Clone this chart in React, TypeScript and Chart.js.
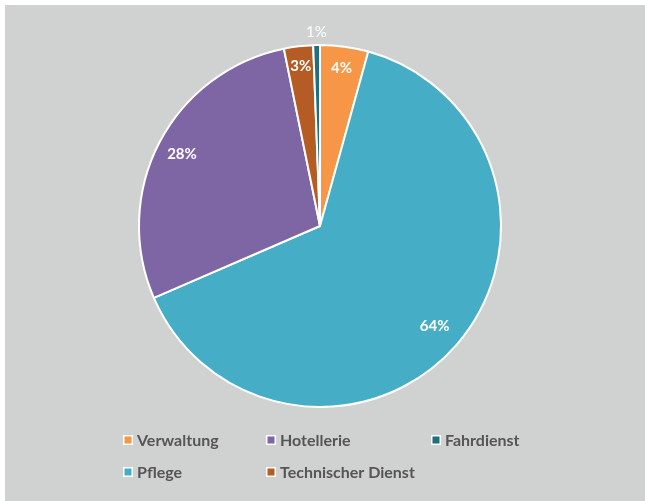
import React, { useEffect, useRef } from "react";
import { Chart, registerables } from "chart.js";

Chart.register(...registerables);

const categories = ["Verwaltung", "Pflege", "Hotellerie", "Technischer Dienst", "Fahrdienst"];
const shares = [4.3, 64.2, 28.3, 2.6, 0.6];
const sliceColors = ["#F79646", "#45ADC5", "#7E66A5", "#B45C24", "#1F6F7E"];
// legend laid out column-major like the original: indexes per grid slot
const legendOrder = [0, 2, 4, 1, 3];
// label radius factor (fraction of radius) per slice
const labelRadius = [0.88, 0.84, 0.86, 0.89, 1.07];
const labelBold = [true, true, true, true, false];

const FONT = "Lato, 'Open Sans', sans-serif";

const pieLabels = {
  id: "pieLabels",
  afterDatasetsDraw(chart: any) {
    const ctx = chart.ctx;
    const meta = chart.getDatasetMeta(0);
    const data = chart.data.datasets[0].data as number[];
    const total = data.reduce((a: number, b: number) => a + b, 0);
    ctx.save();
    ctx.fillStyle = "#ffffff";
    ctx.textAlign = "center";
    ctx.textBaseline = "middle";
    meta.data.forEach((arc: any, i: number) => {
      const p = arc.getProps(["x", "y", "startAngle", "endAngle", "outerRadius"], true);
      const mid = (p.startAngle + p.endAngle) / 2;
      const r = p.outerRadius * labelRadius[i];
      const x = p.x + Math.cos(mid) * r;
      const y = p.y + Math.sin(mid) * r;
      ctx.font = `${labelBold[i] ? "bold " : ""}15px ${FONT}`;
      ctx.fillText(Math.round((data[i] / total) * 100) + "%", x, y);
    });
    ctx.restore();
  },
};

const gridLegend = {
  id: "gridLegend",
  afterDraw(chart: any) {
    const ctx = chart.ctx;
    const colX = [118, 261, 426];
    const rowY = [435, 467];
    ctx.save();
    ctx.font = `bold 16px ${FONT}`;
    ctx.textBaseline = "middle";
    ctx.textAlign = "left";
    legendOrder.forEach((idx, slot) => {
      const col = slot % 3;
      const row = Math.floor(slot / 3);
      const x = colX[col];
      const y = rowY[row];
      ctx.fillStyle = "#ffffff";
      ctx.fillRect(x, y - 5, 10, 10);
      ctx.fillStyle = sliceColors[idx];
      ctx.fillRect(x + 1.5, y - 3.5, 7, 7);
      ctx.fillStyle = "#555555";
      ctx.fillText(categories[idx], x + 14, y + 1);
    });
    ctx.restore();
  },
};

export default function App() {
  const ref = useRef<HTMLCanvasElement>(null);
  useEffect(() => {
    if (!ref.current) return;
    const chart = new Chart(ref.current, {
      type: "pie",
      data: {
        labels: categories,
        datasets: [
          {
            data: shares,
            backgroundColor: sliceColors,
            borderColor: "#ffffff",
            borderWidth: 2,
          },
        ],
      },
      options: {
        animation: false,
        responsive: false,
        layout: { padding: { left: 133, right: 143, top: 39, bottom: 93 } },
        plugins: {
          legend: { display: false },
          tooltip: { enabled: false },
        },
      },
      plugins: [pieLabels, gridLegend],
    });
    return () => chart.destroy();
  }, []);
  return (
    <div style={{ position: "fixed", left: 5, top: 5, width: 640, height: 496, background: "#D0D1D1" }}>
      <canvas ref={ref} width={640} height={496} style={{ display: "block", width: 640, height: 496 }} />
    </div>
  );
}
